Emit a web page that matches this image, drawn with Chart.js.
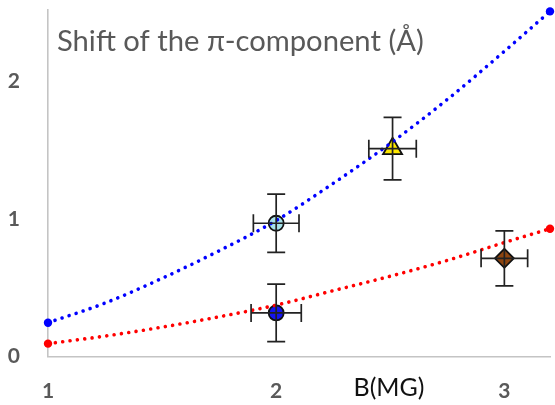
<!DOCTYPE html>
<html lang="en">
  <head>
    <meta charset="UTF-8" />
    <title>Shift of the π-component</title>
    <style>
      body { margin: 0; background: #fff; }
    </style>
  </head>
  <body>
    <div>
      <canvas id="shiftChart" width="555" height="405"></canvas>
    </div>

    <script src="https://cdn.jsdelivr.net/npm/chart.js"></script>
    <script>
      // fitted curves
      let fitX = [1, 1.25, 1.5, 1.75, 2, 2.25, 2.5, 2.75, 3, 3.2];
      let blueFit = [0.247, 0.39, 0.57, 0.77, 0.99, 1.26, 1.55, 1.87, 2.22, 2.51];
      let redFit = [0.095, 0.15, 0.215, 0.29, 0.375, 0.48, 0.585, 0.7, 0.83, 0.93];

      // measured points with error bars
      let pointNames = ["blue", "cyan", "triangle", "diamond"];
      let pointX = [2.0, 2.0, 2.51, 3.0];
      let pointY = [0.318, 0.97, 1.512, 0.715];
      let pointXErr = [0.11, 0.1, 0.104, 0.102];
      let pointYErr = [0.209, 0.211, 0.227, 0.2];

      let xTicks = [1, 2, 3];
      let yTicks = [0, 1, 2];

      let titleText = "Shift of the π-component (Å)";
      let xLabel = "B(MG)";

      let styles = {
        blue: { pointStyle: "circle", radius: 7.5, fill: "#1414f0" },
        cyan: { pointStyle: "circle", radius: 7.5, fill: "#a6e2ea" },
        triangle: { pointStyle: "triangle", radius: 11, fill: "#ffe800" },
        diamond: { pointStyle: "rectRot", radius: 9.5, fill: "#8e4510" },
      };

      function fitDataset(ys, color) {
        return {
          type: "line",
          data: fitX.map((x, i) => ({ x: x, y: ys[i] })),
          borderColor: color,
          backgroundColor: color,
          borderWidth: 3.6,
          borderDash: [0.01, 7.4],
          borderCapStyle: "round",
          cubicInterpolationMode: "monotone",
          pointRadius: (ctx) => (ctx.dataIndex === 0 || ctx.dataIndex === fitX.length - 1 ? 4.2 : 0),
          pointBorderWidth: 0,
          clip: false,
        };
      }

      let pointSets = pointNames.map((name, i) => ({
        type: "scatter",
        data: [{ x: pointX[i], y: pointY[i] }],
        pointStyle: styles[name].pointStyle,
        pointRadius: styles[name].radius,
        backgroundColor: styles[name].fill,
        borderColor: "#111",
        borderWidth: 1.8,
        clip: false,
      }));

      let errorBars = {
        id: "errorBars",
        afterDatasetsDraw(chart) {
          let ctx = chart.ctx;
          let xs = chart.scales.x;
          let ys = chart.scales.y;
          let cap = 9;
          ctx.save();
          ctx.strokeStyle = "#222";
          ctx.lineWidth = 1.7;
          pointX.forEach((x, i) => {
            let cx = xs.getPixelForValue(x);
            let cy = ys.getPixelForValue(pointY[i]);
            let top = ys.getPixelForValue(pointY[i] + pointYErr[i]);
            let bottom = ys.getPixelForValue(pointY[i] - pointYErr[i]);
            let left = xs.getPixelForValue(x - pointXErr[i]);
            let right = xs.getPixelForValue(x + pointXErr[i]);
            ctx.beginPath();
            ctx.moveTo(cx, top);
            ctx.lineTo(cx, bottom);
            ctx.moveTo(cx - cap, top);
            ctx.lineTo(cx + cap, top);
            ctx.moveTo(cx - cap, bottom);
            ctx.lineTo(cx + cap, bottom);
            ctx.moveTo(left, cy);
            ctx.lineTo(right, cy);
            ctx.moveTo(left, cy - cap);
            ctx.lineTo(left, cy + cap);
            ctx.moveTo(right, cy - cap);
            ctx.lineTo(right, cy + cap);
            ctx.stroke();
          });
          ctx.restore();
        },
      };

      let labels = {
        id: "labels",
        afterDraw(chart) {
          let ctx = chart.ctx;
          ctx.save();
          ctx.textBaseline = "alphabetic";
          ctx.fillStyle = "#595959";
          ctx.font = "29.2px Lato";
          ctx.textAlign = "left";
          ctx.fillText(titleText, 57, 51);
          ctx.fillStyle = "#111";
          ctx.font = "25px Lato";
          ctx.textAlign = "center";
          ctx.fillText(xLabel, 389, 396);
          ctx.restore();
        },
      };

      // keep the plot area where the picture has it
      function noPadding(scale) {
        scale.paddingTop = 0;
        scale.paddingBottom = 0;
        scale.paddingLeft = 0;
        scale.paddingRight = 0;
      }

      let canvas = document.querySelector("#shiftChart");
      let chart = new Chart(canvas, {
        data: {
          datasets: [fitDataset(blueFit, "#0000ff"), fitDataset(redFit, "#ff0000"), ...pointSets],
        },
        options: {
          responsive: false,
          animation: false,
          devicePixelRatio: 1,
          layout: { autoPadding: false, padding: { left: 0, top: 10, right: 5, bottom: 0 } },
          plugins: { legend: { display: false }, tooltip: { enabled: false } },
          scales: {
            x: {
              type: "linear",
              min: 1,
              max: 3.2,
              grid: { display: false },
              border: { display: true, color: "#c4c4c4", width: 1.6 },
              afterBuildTicks: (scale) => {
                scale.ticks = xTicks.map((v) => ({ value: v }));
              },
              afterFit: (scale) => {
                scale.height = 48.3;
                noPadding(scale);
              },
              ticks: {
                padding: 14,
                color: "#595959",
                font: { family: "Lato", size: 21, weight: "bold" },
              },
            },
            y: {
              type: "linear",
              min: 0,
              max: 2.52,
              grid: { display: false },
              border: { display: true, color: "#c4c4c4", width: 1.6 },
              afterBuildTicks: (scale) => {
                scale.ticks = yTicks.map((v) => ({ value: v }));
              },
              afterFit: (scale) => {
                scale.width = 48;
                noPadding(scale);
              },
              ticks: {
                padding: 20,
                color: "#595959",
                font: { family: "Lato", size: 21, weight: "bold" },
              },
            },
          },
        },
        plugins: [errorBars, labels],
      });
    </script>
  </body>
</html>
